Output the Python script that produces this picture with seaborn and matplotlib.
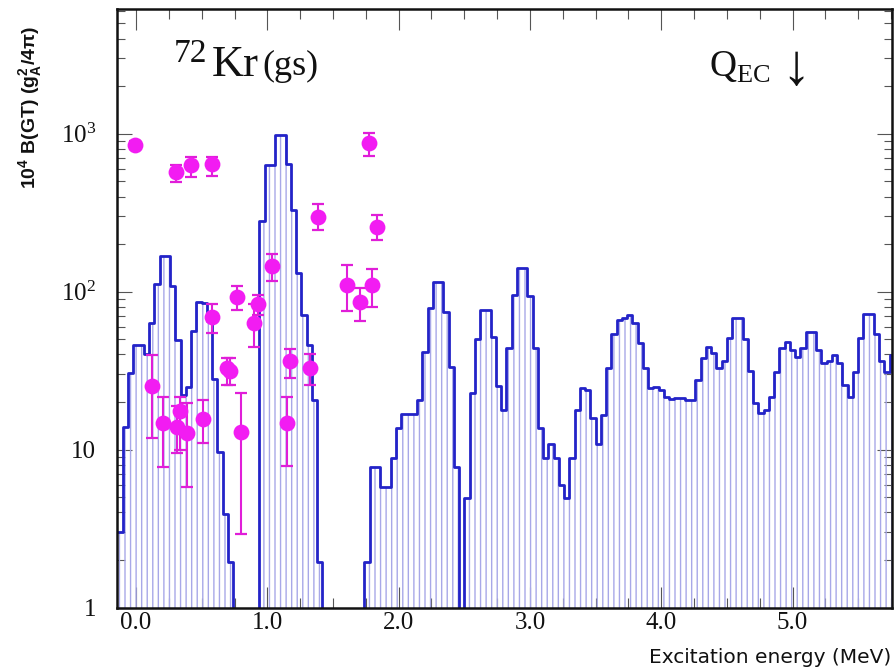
import numpy as np
import pandas as pd
import matplotlib
matplotlib.use("Agg")
import matplotlib.pyplot as plt
import seaborn as sns
from matplotlib.ticker import FixedLocator, MultipleLocator, LogLocator, NullFormatter, FormatStrFormatter

# Calculated GT strength, 40 keV bins starting at -0.14 MeV
bin_start = -0.14
bin_width = 0.04
bgt_calc = [
    3.0, 13.8, 30.4, 46, 46, 40, 63, 112, 168, 168,
    109, 49.5, 22, 25, 56, 86, 85, 65, 28, 9.7,
    3.9, 1.95, 0, 0, 0, 0, 0, 280, 634, 634,
    982, 982, 640, 330, 131, 71, 46, 20.6, 1.95, 0,
    0, 0, 0, 0, 0, 0, 0, 1.95, 7.8, 7.8,
    5.8, 5.8, 8.8, 13.6, 16.7, 16.7, 16.7, 20.6, 41.7, 78.4,
    114.5, 114.5, 74, 33.5, 7.8, 0, 4.9, 22.7, 50.2, 76.6,
    76.6, 51.4, 25.4, 17.8, 44.2, 95.3, 142, 142, 94.4, 44.2,
    13.6, 8.8, 10.9, 8.8, 6.0, 4.9, 8.8, 17.8, 24.4, 23.9,
    15.8, 10.8, 16.6, 32.7, 53.7, 66.2, 68.4, 71.3, 63, 47.1,
    32.7, 24.4, 25.0, 23.9, 21.6, 20.9, 21.3, 21.3, 20.6, 20.6,
    27.6, 38.2, 44.9, 40.7, 33, 36.1, 50.7, 68.4, 68.4, 49.9,
    31.5, 19.6, 17.0, 17.8, 21.6, 30.8, 43.8, 48.3, 42.8, 38.8,
    43.8, 55.2, 55.2, 42.8, 35.2, 36.1, 39.7, 35.2, 25.7, 21.6,
    30.8, 50.7, 72.3, 72.3, 53.7, 36.1, 30.8, 39.7,
]

# Measured levels: energy (MeV), B(GT) and error band limits
exp_energy = [-0.01, 0.124, 0.208, 0.302, 0.31, 0.335, 0.386, 0.419, 0.508, 0.576,
              0.576, 0.69, 0.716, 0.767, 0.80, 0.90, 0.931, 1.033, 1.152, 1.17,
              1.323, 1.386, 1.61, 1.704, 1.772, 1.80, 1.838]
exp_bgt = [850, 25.3, 14.7, 569, 13.8, 17.6, 12.8, 634, 15.6, 640,
           69.5, 33, 31.5, 93, 12.9, 63.7, 83, 146, 14.8, 36.1,
           32.7, 298, 110, 86.4, 868, 110, 258]
exp_low = [800, 11.9, 7.8, 497, 9.5, 10, 5.8, 535, 11, 540,
           54.6, 25.7, 25.7, 76, 2.9, 44.7, 71, 117, 7.9, 28.3,
           25.7, 245, 75, 65, 720, 80, 212]
exp_high = [900, 39.7, 21.6, 634, 19, 21.6, 19.6, 715, 20.6, 715,
            83, 38.2, 38, 109, 22.7, 84, 95.5, 172, 21.6, 43.3,
            40.3, 361, 147, 105, 1010, 140, 305]

x_major = [0, 1, 2, 3, 4, 5]
y_major = [1, 10, 100, 1000]
y_labels = ["1", "10", r"$\mathregular{10^{2}}$", r"$\mathregular{10^{3}}$"]

edges = [bin_start + bin_width * i for i in range(len(bgt_calc) + 1)]
centers = [e + bin_width / 2 for e in edges[:-1]]
calc = pd.DataFrame({"energy": centers, "bgt": bgt_calc})
meas = pd.DataFrame({"energy": exp_energy, "bgt": exp_bgt,
                     "lo": exp_low, "hi": exp_high})

sns.set_theme(style="white")
plt.rcParams["hatch.linewidth"] = 1.0
plt.rcParams["font.family"] = ["Liberation Serif", "DejaVu Serif"]

W, H = 894, 670
fig = plt.figure(figsize=(W / 100, H / 100), dpi=100)
fig.patch.set_facecolor("white")
left, right, top, bottom = 117, 891.5, 8.5, 607.5
ax = fig.add_axes([left / W, 1 - bottom / H, (right - left) / W, (bottom - top) / H])
ax.set_facecolor("white")

outline = "#2323c8"
hatch_col = "#a8a8e8"
magenta = "#f21cf2"
err_col = "#e01ed8"

# hatched body of the calculated distribution
n_before = len(ax.collections)
sns.histplot(data=calc, x="energy", weights="bgt", bins=edges, element="step",
             fill=True, ax=ax, color=hatch_col, zorder=1)
for body in ax.collections[n_before:]:
    body.set_facecolor("none")
    body.set_edgecolor(hatch_col)
    body.set_linewidth(0)
    body.set_hatch("|||")

# its step outline
sns.histplot(data=calc, x="energy", weights="bgt", bins=edges, element="step",
             fill=False, ax=ax, color=outline, linewidth=2.0, zorder=2)

# measured points with error bars
ax.errorbar(meas["energy"], meas["bgt"],
            yerr=[meas["bgt"] - meas["lo"], meas["hi"] - meas["bgt"]],
            fmt="none", ecolor=err_col, elinewidth=1.5, capsize=4.6,
            capthick=1.6, zorder=4)
sns.scatterplot(data=meas, x="energy", y="bgt", ax=ax, color=magenta, s=130,
                linewidth=0, zorder=5, legend=False)

ax.set_yscale("log")
ax.set_xlim(-0.145, 5.754)
ax.set_ylim(1, 6200)
ax.set_xlabel("")
ax.set_ylabel("")

ax.xaxis.set_major_locator(FixedLocator(x_major))
ax.xaxis.set_minor_locator(MultipleLocator(0.25))
ax.xaxis.set_major_formatter(FormatStrFormatter("%.1f"))
ax.yaxis.set_major_locator(FixedLocator(y_major))
ax.set_yticklabels(y_labels)
ax.yaxis.set_minor_locator(LogLocator(base=10, subs=np.arange(2, 10)))
ax.yaxis.set_minor_formatter(NullFormatter())

ax.tick_params(axis="x", which="major", direction="in", length=15, width=0.8,
               color="#555555", top=True, bottom=True, pad=3.5,
               labelsize=18, labelcolor="#111111")
ax.tick_params(axis="x", which="minor", direction="in", length=7, width=0.8,
               color="#555555", top=True, bottom=True)
ax.tick_params(axis="y", which="major", direction="in", length=11, width=0.8,
               color="#555555", left=True, right=True, pad=15,
               labelsize=18, labelcolor="#111111")
ax.tick_params(axis="y", which="minor", direction="in", length=6, width=0.8,
               color="#555555", left=True, right=True)
for lab in ax.get_xticklabels() + ax.get_yticklabels():
    lab.set_fontfamily(["Liberation Serif", "DejaVu Serif"])

for sp in ax.spines.values():
    sp.set_visible(True)
    sp.set_color("#111111")
    sp.set_linewidth(1.8)
    sp.set_zorder(6)


def px_text(x, y, s, **kw):
    fig.text(x / W, 1 - y / H, s, **kw)


serif = ["Liberation Serif", "DejaVu Serif"]
px_text(174, 62, "72", fontsize=24, family=serif, va="baseline", color="#111111")
px_text(212, 76, "Kr", fontsize=32, family=serif, va="baseline", color="#111111")
px_text(262, 75, "(gs)", fontsize=26, family=serif, va="baseline", color="#111111")
px_text(709, 77, r"Q$_{\mathregular{EC}}$", fontsize=27, family=serif,
        va="baseline", color="#111111")
px_text(781, 84, "\u2193", fontsize=42, family=serif, va="baseline", color="#111111")

px_text(31, 108, r"10$^{\mathregular{4}}$ B(GT) (g$_{\mathregular{A}}^{\mathregular{2}}$/4π)",
        rotation=90, ha="center", va="center", fontsize=14, weight="bold",
        family=["Liberation Sans", "DejaVu Sans"], color="#111111")
px_text(891, 663, "Excitation energy (MeV)", ha="right", va="baseline",
        fontsize=14.5, family=["DejaVu Sans"], color="#111111")

fig.savefig("out.png", dpi=100, facecolor="white")
